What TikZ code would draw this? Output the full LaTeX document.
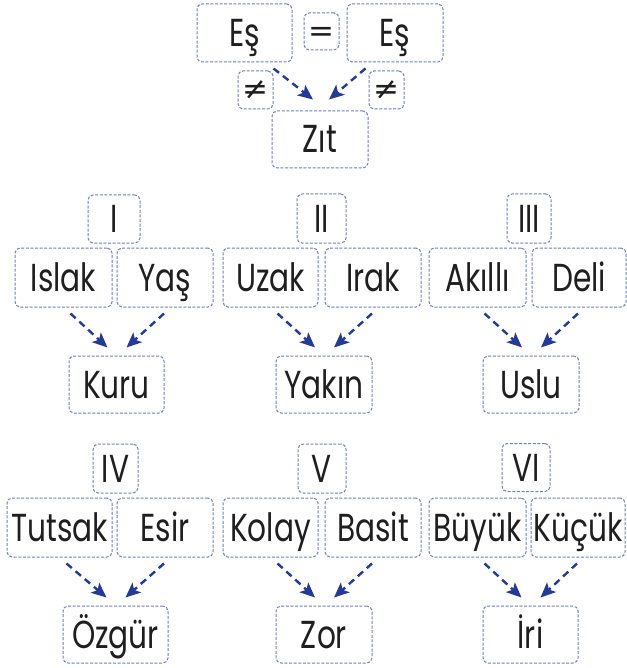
\documentclass[tikz,border=0pt]{standalone}
\usepackage{fontspec}
\setmainfont{Poppins}[FakeStretch=0.76]
\newfontfamily\symfont{DejaVu Sans}
\usetikzlibrary{arrows.meta}
\definecolor{boxline}{RGB}{112,128,186}
\definecolor{arrowblue}{RGB}{36,58,148}
\tikzset{
 box/.style={draw=boxline, line width=1pt, dash pattern=on 3pt off 1.6pt, rounded corners=5pt,
   inner sep=0pt, text height=27pt, text depth=0pt, font=\fontsize{39}{42}\selectfont, text=black!88},
 symbox/.style={box, text height=20pt, font=\symfont\fontsize{31}{33}\selectfont},
 arr/.style={draw=arrowblue, line width=2.4pt, dash pattern=on 7pt off 5pt,
   -{Stealth[length=15pt,width=13pt,inset=3.5pt]}},
}
\newcommand\mybox[7][box]{\node[#1,minimum width=#5pt,minimum height=#6pt] (#2) at (#3,#4) {#7};}
\newcommand\twoarrows[3]{%
  \draw[arr] ([xshift=7pt,yshift=-6pt]#1.south) -- ([xshift=-9pt,yshift=8pt]#3.north);
  \draw[arr] ([xshift=-1pt,yshift=-6pt]#2.south) -- ([xshift=10pt,yshift=8pt]#3.north);}
\begin{document}
\begin{tikzpicture}[x=1pt,y=-1pt]
\fill[white] (0,0) rectangle (626,668);
\useasboundingbox (0,0) rectangle (626,668);
% top
\mybox{eL}{244.5}{33}{95}{58}{Eş}
\mybox[symbox]{eq}{321.5}{31.5}{35}{37}{=}
\mybox{eR}{395}{33}{96}{58}{Eş}
\mybox[symbox]{neL}{255.5}{90}{35}{38}{≠}
\mybox[symbox]{neR}{386.5}{90}{35}{38}{≠}
\mybox{zit}{320}{139.5}{96}{57}{Zıt}
\draw[arr] ([xshift=-19pt,yshift=-6pt]eL.south east) -- ([xshift=-7pt,yshift=11pt]zit.north);
\draw[arr] ([xshift=19pt,yshift=-6pt]eR.south west) -- ([xshift=9pt,yshift=11pt]zit.north);
% row 1
\mybox{g1}{114}{219}{52}{48}{I}
\mybox{g2}{321.5}{218.5}{49}{49}{II}
\mybox{g3}{529}{218.5}{44}{49}{III}
\mybox{islak}{63.5}{277.5}{97}{59}{Islak}
\mybox{yas}{165}{277.5}{96}{59}{Yaş}
\mybox{uzak}{270.5}{277.5}{95}{59}{Uzak}
\mybox{irak}{373}{277.5}{96}{59}{Irak}
\mybox{akilli}{477.5}{277.5}{97}{59}{Akıllı}
\mybox{deli}{579}{277.5}{94}{59}{Deli}
\mybox{kuru}{116.5}{384.5}{95}{57}{Kuru}
\mybox{yakin}{324}{384.5}{96}{57}{Yakın}
\mybox{uslu}{531}{384.5}{96}{57}{Uslu}
\twoarrows{islak}{yas}{kuru}
\twoarrows{uzak}{irak}{yakin}
\twoarrows{akilli}{deli}{uslu}
% row 2
\mybox{g4}{115.5}{468.5}{45}{49}{IV}
\mybox{g5}{322}{468.5}{48}{49}{V}
\mybox{g6}{526}{467.5}{48}{48}{VI}
\mybox{tutsak}{59.5}{527.5}{105}{59}{Tutsak}
\mybox{esir}{165}{527.5}{96}{59}{Esir}
\mybox{kolay}{270.5}{527.5}{95}{59}{Kolay}
\mybox{basit}{373}{527.5}{96}{59}{Basit}
\mybox{buyuk}{477.5}{527.5}{97}{59}{Büyük}
\mybox{kucuk}{578}{527.5}{94}{59}{Küçük}
\mybox{ozgur}{115.5}{634.5}{105}{57}{Özgür}
\mybox{zor}{324}{634.5}{96}{57}{Zor}
\mybox{iri}{530.5}{634.5}{95}{57}{İri}
\twoarrows{tutsak}{esir}{ozgur}
\twoarrows{kolay}{basit}{zor}
\twoarrows{buyuk}{kucuk}{iri}
\end{tikzpicture}
\end{document}
